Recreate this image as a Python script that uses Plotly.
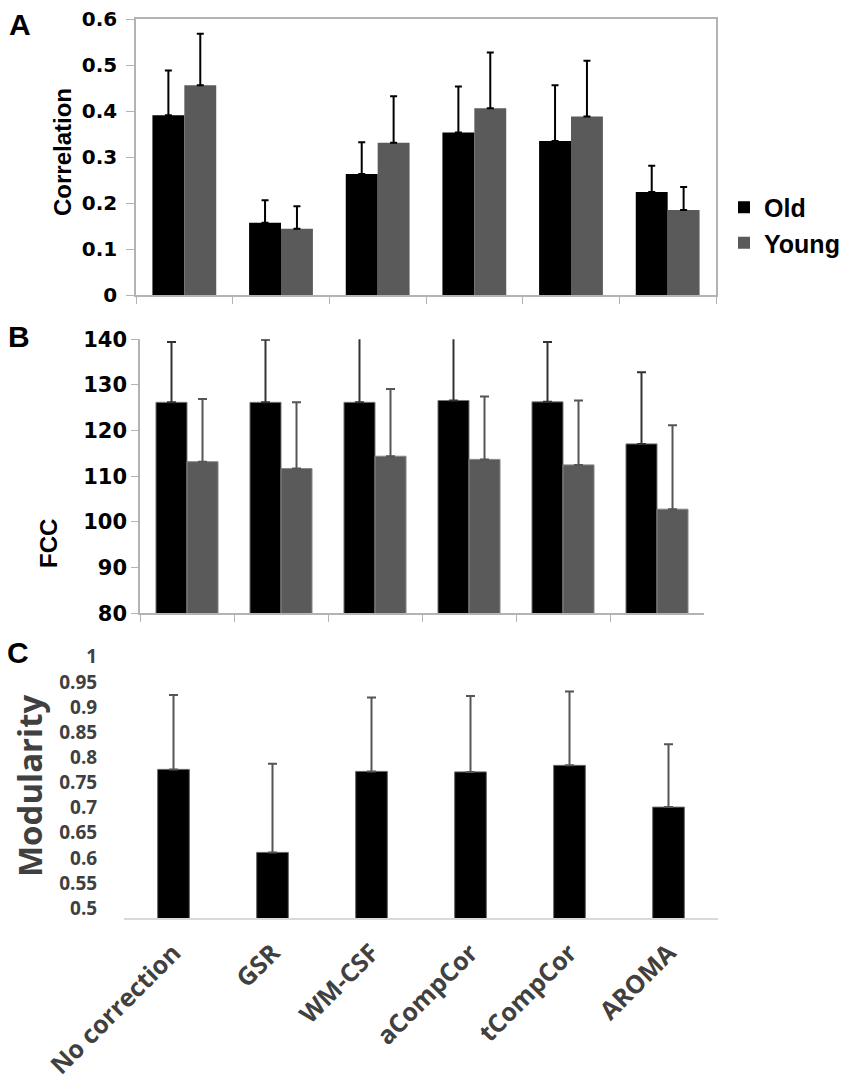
import plotly.graph_objects as go

methods = ["No correction", "GSR", "WM-CSF", "aCompCor", "tCompCor", "AROMA"]

# A: correlation (mean, upper error)
corr_old = [0.391, 0.157, 0.263, 0.353, 0.335, 0.224]
corr_old_err = [0.097, 0.049, 0.069, 0.100, 0.121, 0.057]
corr_young = [0.456, 0.144, 0.331, 0.406, 0.388, 0.185]
corr_young_err = [0.112, 0.049, 0.101, 0.121, 0.121, 0.050]

# B: FCC
fcc_old = [126.2, 126.2, 126.2, 126.6, 126.3, 117.1]
fcc_old_err = [13.2, 13.7, 16.0, 15.5, 13.1, 15.7]
fcc_young = [113.2, 111.7, 114.4, 113.7, 112.5, 102.8]
fcc_young_err = [13.7, 14.5, 14.7, 13.8, 14.1, 18.4]

# C: modularity
modularity = [0.776, 0.611, 0.772, 0.771, 0.784, 0.701]
modularity_err = [0.148, 0.176, 0.147, 0.151, 0.147, 0.125]
mod_ticks = [0.5, 0.55, 0.6, 0.65, 0.7, 0.75, 0.8, 0.85, 0.9, 0.95, 1.0]
mod_ticktext = ["0.5", "0.55", "0.6", "0.65", "0.7", "0.75", "0.8", "0.85", "0.9", "0.95", "1"]

W, H = 851, 1085
OFF = 8  # page body margin shifts the plot div by 8px


def fx(p):
    return (p - OFF) / W


def fy(p):
    return 1 - (p - OFF) / H


OLD = "#000000"
YOUNG = "#5a5a5a"
AXIS = "#b3b3b3"
CTEXT = "#404040"
arial_b = dict(family="Liberation Sans, Arial", color="black", weight="bold")
wide_b = dict(family="DejaVu Sans", color="black", weight="bold")
calibri_b = dict(family="Open Sans", color=CTEXT, weight="bold")

fig = go.Figure()

# panel A
fig.add_trace(go.Bar(
    x=methods, y=corr_old, name="Old", marker=dict(color=OLD, line=dict(width=0)),
    error_y=dict(type="data", symmetric=False, array=corr_old_err, color="black", thickness=2, width=3.5),
    xaxis="x", yaxis="y", legendgroup="old",
))
fig.add_trace(go.Bar(
    x=methods, y=corr_young, name="Young", marker=dict(color=YOUNG, line=dict(width=0)),
    error_y=dict(type="data", symmetric=False, array=corr_young_err, color="black", thickness=2, width=3.5),
    xaxis="x", yaxis="y", legendgroup="young",
))

# panel B
fig.add_trace(go.Bar(
    x=methods, y=fcc_old, name="Old", showlegend=False, marker=dict(color=OLD, line=dict(width=1, color="#777")),
    error_y=dict(type="data", symmetric=False, array=fcc_old_err, color="#333333", thickness=2, width=4.5),
    xaxis="x2", yaxis="y2", legendgroup="old",
))
fig.add_trace(go.Bar(
    x=methods, y=fcc_young, name="Young", showlegend=False, marker=dict(color=YOUNG, line=dict(width=1, color="#888")),
    error_y=dict(type="data", symmetric=False, array=fcc_young_err, color="#555555", thickness=2, width=4.5),
    xaxis="x2", yaxis="y2", legendgroup="young",
))

# panel C
fig.add_trace(go.Bar(
    x=methods, y=modularity, name="Modularity", showlegend=False, width=0.32,
    marker=dict(color="black", line=dict(width=1, color="#666")),
    error_y=dict(type="data", symmetric=False, array=modularity_err, color="#555555", thickness=2, width=4.5),
    xaxis="x3", yaxis="y3",
))

cat_axis = dict(showticklabels=False, showline=True, linecolor=AXIS, linewidth=1.5,
                ticks="outside", tickson="boundaries", ticklen=7, tickcolor=AXIS,
                showgrid=False, zeroline=False)


def label(text, x, y, font, angle=0):
    return dict(text=text, x=fx(x), y=fy(y), xref="paper", yref="paper", showarrow=False,
                xanchor="center", yanchor="middle", textangle=angle, font=font)


fig.update_layout(
    width=W, height=H,
    margin=dict(l=0, r=0, t=0, b=0, autoexpand=False),
    paper_bgcolor="white", plot_bgcolor="white",
    barmode="group", bargap=0.34, bargroupgap=0,
    xaxis=dict(cat_axis, domain=[fx(136), fx(716)], anchor="y", mirror=True),
    yaxis=dict(domain=[fy(295), fy(19)], anchor="x", range=[0, 0.6], dtick=0.1,
               showline=True, linecolor=AXIS, linewidth=1.5, mirror=True,
               ticks="outside", ticklen=8, tickcolor=AXIS, ticklabelstandoff=5,
               ticklabeloverflow="allow",
               tickfont=dict(wide_b, size=20), showgrid=False, zeroline=False),
    xaxis2=dict(cat_axis, domain=[fx(140), fx(704)], anchor="y2"),
    yaxis2=dict(domain=[fy(613.3), fy(339.3)], anchor="x2", range=[80, 140], dtick=10,
                showline=True, linecolor=AXIS, linewidth=1.5,
                ticks="outside", ticklen=7, tickcolor=AXIS, ticklabeloverflow="allow",
                tickfont=dict(wide_b, size=21), showgrid=False, zeroline=False),
    xaxis3=dict(domain=[fx(124), fx(718)], anchor="y3", showline=True, linecolor="#d9d9d9", linewidth=2,
                ticks="outside", ticklen=8, tickcolor="rgba(0,0,0,0)",
                tickangle=-45, tickfont=dict(calibri_b, size=25),
                showgrid=False, zeroline=False),
    yaxis3=dict(domain=[fy(918.3), fy(656.7)], anchor="x3", range=[0.48, 1.0],
                tickvals=mod_ticks, ticktext=mod_ticktext, showline=False,
                ticks="outside", ticklen=22, tickcolor="rgba(0,0,0,0)", ticklabeloverflow="allow",
                tickfont=dict(calibri_b, size=19), showgrid=False, zeroline=False),
    legend=dict(x=fx(724), y=fy(225), xanchor="left", yanchor="middle",
                font=dict(arial_b, size=25), bgcolor="rgba(0,0,0,0)", tracegroupgap=0),
    annotations=[
        label("A", 20, 25, dict(arial_b, size=30)),
        label("B", 19, 336, dict(arial_b, size=30)),
        label("C", 18, 652, dict(arial_b, size=30)),
        label("Correlation", 63, 152, dict(arial_b, size=24), -90),
        label("FCC", 48, 544, dict(arial_b, size=24), -90),
        label("Modularity", 29, 786, dict(calibri_b, size=33), -90),
    ],
)

fig.write_html("out.html")
